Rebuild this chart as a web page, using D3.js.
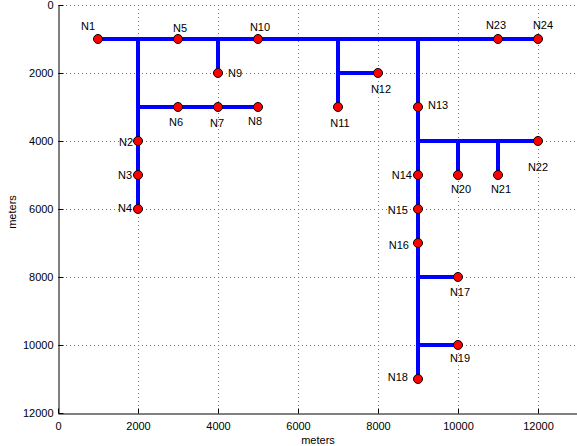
<!DOCTYPE html>
<html>
<head>
<meta charset="utf-8">
<script src="https://cdn.jsdelivr.net/npm/d3@7"></script>
<style>
  html, body { margin: 0; padding: 0; background: #fff; }
  svg { display: block; font-family: "Liberation Sans", Arial, Helvetica, sans-serif; }
</style>
</head>
<body>
<svg id="chart" width="577" height="446"></svg>
<script>
// Network nodes (meters)
const nodeNames = ["N1","N2","N3","N4","N5","N6","N7","N8","N9","N10","N11","N12",
                   "N13","N14","N15","N16","N17","N18","N19","N20","N21","N22","N23","N24"];
const nodeX = [1000,2000,2000,2000,3000,3000,4000,5000,4000,5000,7000,8000,
               9000,9000,9000,9000,10000,9000,10000,10000,11000,12000,11000,12000];
const nodeY = [1000,4000,5000,6000,1000,3000,3000,3000,2000,1000,3000,2000,
               3000,5000,6000,7000,8000,11000,10000,5000,5000,4000,1000,1000];

// Pipe segments: [x1, y1, x2, y2] in meters
const pipes = [
  [1000, 1000, 12000, 1000],
  [2000, 1000, 2000, 6000],
  [2000, 3000, 5000, 3000],
  [4000, 1000, 4000, 2000],
  [7000, 1000, 7000, 3000],
  [7000, 2000, 8000, 2000],
  [9000, 1000, 9000, 11000],
  [9000, 4000, 12000, 4000],
  [10000, 4000, 10000, 5000],
  [11000, 4000, 11000, 5000],
  [9000, 8000, 10000, 8000],
  [9000, 10000, 10000, 10000]
];

// Axis ticks
const xTicks = [0, 2000, 4000, 6000, 8000, 10000, 12000];
const yTicks = [0, 2000, 4000, 6000, 8000, 10000, 12000];

// Label placement relative to each node: [dx px, dy px, anchor]
const labelPlacement = {
  N1: [-10, -13, "middle"], N5: [2, -11, "middle"], N10: [2, -12, "middle"],
  N23: [-2, -14, "middle"], N24: [5, -14, "middle"],
  N9: [10, 0, "start"], N13: [10, -2, "start"],
  N6: [-2, 15, "middle"], N7: [-1, 16, "middle"], N8: [-3, 14, "middle"],
  N11: [2, 16, "middle"], N12: [3, 16, "middle"], N22: [0, 26, "middle"],
  N20: [3, 14, "middle"], N21: [3, 14, "middle"],
  N17: [2, 15, "middle"], N19: [2, 13, "middle"],
  N2: [-5, 1, "end"], N3: [-6, 0, "end"], N4: [-6, -1, "end"],
  N14: [-6, 0, "end"], N15: [-10, 1, "end"], N16: [-9, 2, "end"], N18: [-10, -2, "end"]
};

const svg = d3.select("#chart");
const plotLeft = 58, plotRight = 578, plotTop = 5, plotBottom = 413;

const x = d3.scaleLinear().domain([0, 13000]).range([plotLeft, plotRight]);
const y = d3.scaleLinear().domain([0, 12000]).range([plotTop, plotBottom]);

// Dotted grid
const grid = svg.append("g")
  .attr("stroke", "#777")
  .attr("stroke-width", 1)
  .attr("stroke-dasharray", "1,3");
grid.selectAll("line.gx").data(xTicks.filter(d => d > 0)).join("line")
  .attr("x1", d => Math.round(x(d)) + 0.5).attr("x2", d => Math.round(x(d)) + 0.5)
  .attr("y1", plotTop).attr("y2", plotBottom);
grid.selectAll("line.gy").data(yTicks.filter(d => d < 12000)).join("line")
  .attr("x1", plotLeft).attr("x2", plotRight)
  .attr("y1", d => Math.round(y(d)) + 0.5).attr("y2", d => Math.round(y(d)) + 0.5);

// Axes with inward ticks
const xAxis = d3.axisBottom(x).tickValues(xTicks).tickFormat(d3.format("d"))
  .tickSizeInner(-5).tickSizeOuter(0).tickPadding(10);
const yAxis = d3.axisLeft(y).tickValues(yTicks).tickFormat(d3.format("d"))
  .tickSizeInner(-5).tickSizeOuter(0).tickPadding(10);

const gx = svg.append("g").attr("transform", `translate(0,${plotBottom + 0.5})`).call(xAxis);
const gy = svg.append("g").attr("transform", `translate(${plotLeft + 0.5},0)`).call(yAxis);
[gx, gy].forEach(g => {
  g.selectAll("text").attr("font-size", 11).attr("fill", "#000")
    .attr("font-family", "'Liberation Sans', Arial, sans-serif");
  g.selectAll("line, path").attr("stroke", "#000");
});
gx.selectAll("text").attr("dy", "0.6em");
gy.selectAll("text").attr("x", -5);

// Axis titles
svg.append("text").attr("x", (plotLeft + plotRight) / 2).attr("y", 444)
  .attr("text-anchor", "middle").attr("font-size", 11).text("meters");
svg.append("text")
  .attr("transform", `translate(16,${(plotTop + plotBottom) / 2 + 3}) rotate(-90)`)
  .attr("text-anchor", "middle").attr("font-size", 11).text("meters");

// Pipes
svg.append("g").selectAll("line").data(pipes).join("line")
  .attr("x1", d => x(d[0])).attr("y1", d => y(d[1]))
  .attr("x2", d => x(d[2])).attr("y2", d => y(d[3]))
  .attr("stroke", "#0000ff").attr("stroke-width", 4);

// Nodes
const nodes = nodeNames.map((n, i) => ({ name: n, x: nodeX[i], y: nodeY[i] }));
svg.append("g").selectAll("circle").data(nodes).join("circle")
  .attr("cx", d => x(d.x)).attr("cy", d => y(d.y)).attr("r", 4.5)
  .attr("fill", "#ff0000").attr("stroke", "#000").attr("stroke-width", 1);

// Node labels
svg.append("g").selectAll("text").data(nodes).join("text")
  .attr("x", d => x(d.x) + labelPlacement[d.name][0])
  .attr("y", d => y(d.y) + labelPlacement[d.name][1])
  .attr("text-anchor", d => labelPlacement[d.name][2])
  .attr("dominant-baseline", "central")
  .attr("font-size", 11).attr("fill", "#000")
  .text(d => d.name);
</script>
</body>
</html>
